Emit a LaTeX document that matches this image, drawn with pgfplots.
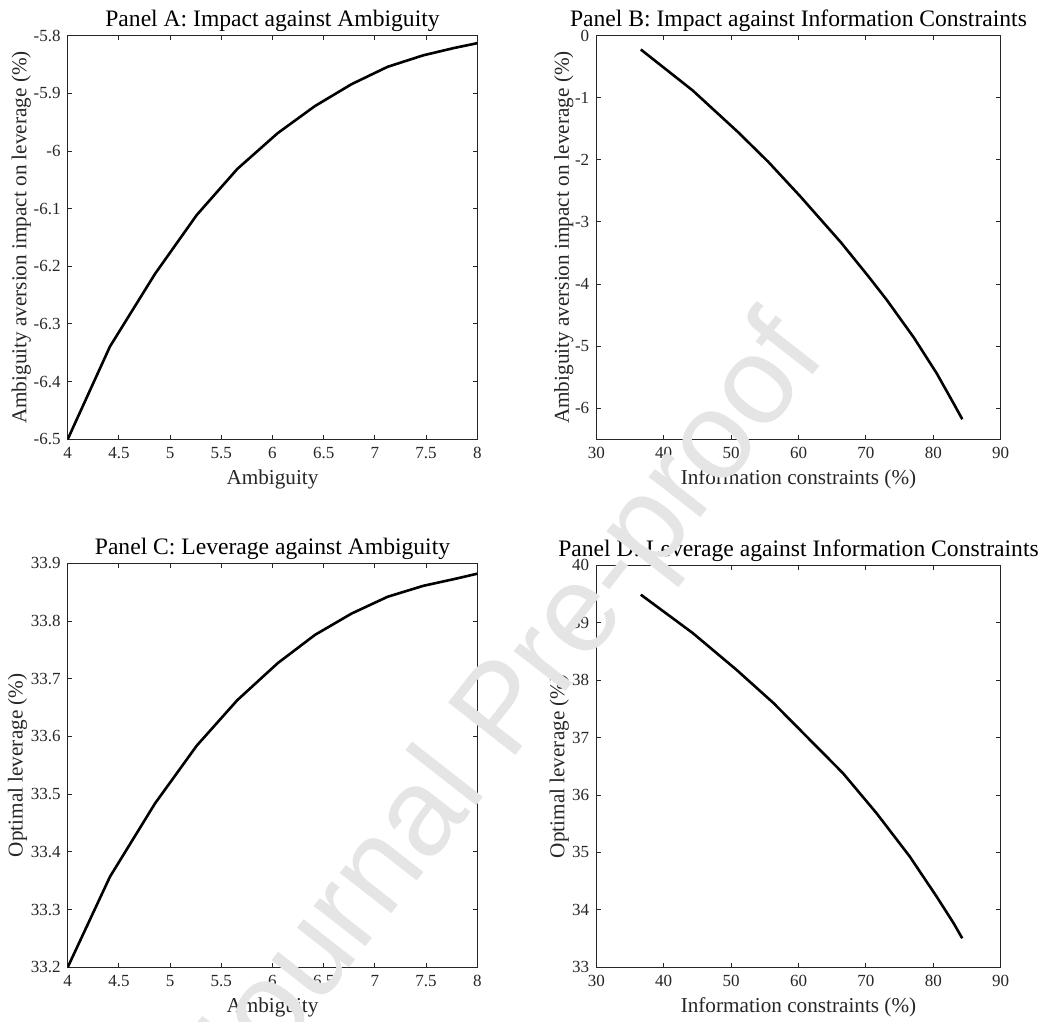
\documentclass[border=0pt]{standalone}
\usepackage{fontspec}
\setmainfont{Liberation Serif}
\newfontfamily\wmfont{Liberation Sans}
\usepackage{pgfplots}
\pgfplotsset{compat=1.18}
\definecolor{axgray}{RGB}{38,38,38}
\definecolor{wm}{RGB}{229,229,229}

\pgfplotstableread{
x y
4.000 -6.500
4.413 -6.339
4.853 -6.213
5.260 -6.111
5.657 -6.031
6.051 -5.969
6.415 -5.922
6.773 -5.884
7.124 -5.854
7.473 -5.834
7.782 -5.821
8.000 -5.813
}\panelA

\pgfplotstableread{
x y
36.6 -0.222
44.3 -0.882
51.0 -1.550
55.5 -2.030
60.2 -2.580
66.3 -3.330
70.4 -3.880
73.1 -4.256
77.1 -4.860
80.5 -5.437
83.0 -5.920
84.3 -6.177
}\panelB

\pgfplotstableread{
x y
4.000 33.200
4.413 33.357
4.853 33.484
5.260 33.584
5.657 33.663
6.051 33.727
6.415 33.776
6.773 33.813
7.124 33.842
7.473 33.861
7.782 33.873
8.000 33.882
}\panelC

\pgfplotstableread{
x y
36.6 39.489
44.3 38.821
50.8 38.180
56.3 37.600
61.7 36.960
66.6 36.380
71.6 35.680
76.5 34.930
80.5 34.230
83.0 33.770
84.3 33.505
}\panelD

\pgfplotsset{
  mstyle/.style={
    scale only axis,
    anchor=south west,
    axis line style={axgray, line width=0.5pt},
    every tick/.style={axgray, line width=0.5pt},
    major tick length=2.2pt,
    tick align=inside,
    tick pos=both,
    minor tick num=0,
    tick label style={font=\fontsize{8.5}{10}\selectfont, text=axgray},
    /pgf/number format/assume math mode=true,
    xticklabel style={yshift=-0.6pt},
    title style={font=\fontsize{11.8}{14}\selectfont, at={(0.5,1)}, anchor=base, yshift=-1.5pt},
    xlabel style={font=\fontsize{10.6}{12}\selectfont, text=axgray, at={(axis description cs:0.5,0)}, anchor=base, yshift=-22.8pt},
    ylabel style={font=\fontsize{10.6}{12}\selectfont, text=axgray, anchor=base},
  },
  curve/.style={black, line width=1.3pt, mark=none, line join=round},
}

\begin{document}
\begin{tikzpicture}
\useasboundingbox (-33.85pt,-27.35pt) rectangle (491.15pt,483.65pt);

% Panel A
\begin{axis}[mstyle, at={(0pt,264pt)}, width=204.8pt, height=201.8pt,
  xmin=4, xmax=8, ymin=-6.5, ymax=-5.8,
  xtick={4,4.5,5,5.5,6,6.5,7,7.5,8},
  ytick={-6.5,-6.4,-6.3,-6.2,-6.1,-6,-5.9,-5.8},
  yticklabels={-6.5,-6.4,-6.3,-6.2,-6.1,-6,-5.9,-5.8},
  title={Panel A: Impact against Ambiguity},
  xlabel={Ambiguity},
  ylabel={Ambiguity aversion impact on leverage (\%)},
  ylabel style={at={(axis description cs:-0.101,0.5)}}]
\addplot[curve] table[x=x,y=y] {\panelA};
\end{axis}

% Panel B
\begin{axis}[mstyle, at={(264.3pt,264pt)}, width=202.2pt, height=201.8pt,
  xmin=30, xmax=90, ymin=-6.5, ymax=0,
  xtick={30,40,50,60,70,80,90},
  ytick={-6,-5,-4,-3,-2,-1,0},
  yticklabels={-6,-5,-4,-3,-2,-1,0},
  title={Panel B: Impact against Information Constraints},
  xlabel={Information constraints (\%)},
  ylabel={Ambiguity aversion impact on leverage (\%)},
  ylabel style={at={(axis description cs:-0.068,0.5)}}]
\addplot[curve] table[x=x,y=y] {\panelB};
\end{axis}

% Panel C
\begin{axis}[mstyle, at={(0pt,0pt)}, width=204.8pt, height=202pt,
  xmin=4, xmax=8, ymin=33.2, ymax=33.9,
  xtick={4,4.5,5,5.5,6,6.5,7,7.5,8},
  ytick={33.2,33.3,33.4,33.5,33.6,33.7,33.8,33.9},
  yticklabels={33.2,33.3,33.4,33.5,33.6,33.7,33.8,33.9},
  title={Panel C: Leverage against Ambiguity},
  xlabel={Ambiguity},
  ylabel={Optimal leverage (\%)},
  ylabel style={at={(axis description cs:-0.11,0.5)}}]
\addplot[curve] table[x=x,y=y] {\panelC};
\end{axis}

% Panel D
\begin{axis}[mstyle, at={(264.3pt,0pt)}, width=202.2pt, height=201pt,
  xmin=30, xmax=90, ymin=33, ymax=40,
  xtick={30,40,50,60,70,80,90},
  ytick={33,34,35,36,37,38,39,40},
  title={Panel D: Leverage against Information Constraints},
  xlabel={Information constraints (\%)},
  ylabel={Optimal leverage (\%)},
  ylabel style={at={(axis description cs:-0.079,0.5)}}]
\addplot[curve] table[x=x,y=y] {\panelD};
\end{axis}

% watermark
\node[font=\wmfont\fontsize{62}{66}\selectfont, text=wm, rotate=52, anchor=base, inner sep=0pt] at (232.5pt,116.9pt) {Journal Pre-proof};
\end{tikzpicture}
\end{document}
